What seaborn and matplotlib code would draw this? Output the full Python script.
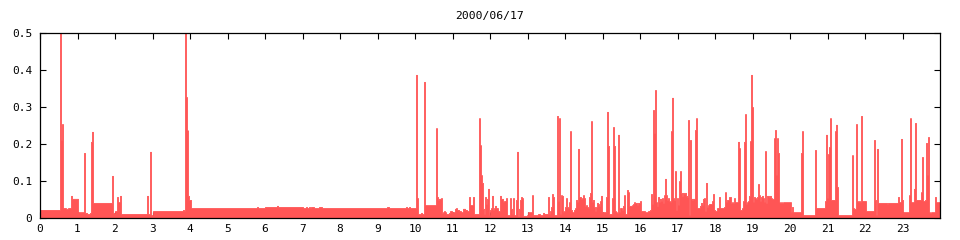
import numpy as np
import pandas as pd
import matplotlib
matplotlib.use("Agg")
import matplotlib.pyplot as plt
import seaborn as sns
from matplotlib.ticker import FuncFormatter

title = "2000/06/17"

# step start times (minutes after midnight) and the load value held from that time on
t_min = [
    0, 32, 33.6, 35.2, 36.8, 41.6, 44.8, 49.6, 51.2, 60.8, 70.4, 72, 75.2, 80, 81.6, 83.2, 84.8,
    115.2, 116.8, 120, 123.2, 124.8, 128, 129.6, 171.2, 172.8, 176, 177.6, 180.8, 228.8, 230.4,
    232, 233.6, 235.2, 236.8, 238.4, 241.6, 347.2, 348.8, 360, 379.2, 380.8, 420.8, 425.6, 427.2,
    430.4, 432, 433.6, 438.4, 446.4, 451.2, 555.2, 558.4, 585.6, 587.2, 590.4, 592,
    601.6, 603.2, 604.8, 609.6, 611.2, 614.4, 616, 633.6, 635.2, 636.8, 638.4, 641.6, 643.2,
    644.8, 646.4, 648, 649.6, 654.4, 656, 659.2, 664, 665.6, 667.2, 670.4, 673.6, 676.8, 680,
    683.2, 686.4, 688, 692.8, 694.4, 702.4, 704, 705.6, 707.2, 708.8, 710.4, 712, 713.6, 715.2,
    716.8, 718.4, 720, 721.6, 723.2, 724.8, 726.4, 728, 729.6, 732.8, 736, 737.6, 740.8, 742.4,
    745.6, 747.2, 752, 753.6, 755.2, 756.8, 758.4, 761.6, 763.2, 764.8, 766.4, 768, 769.6, 771.2,
    772.8, 779.2, 780.8, 787.2, 788.8, 796.8, 800, 804.8, 806.4, 812.8, 814.4, 816, 817.6, 819.2,
    820.8, 822.4, 827.2, 828.8, 830.4, 832, 833.6, 835.2, 836.8, 838.4, 840, 841.6, 843.2, 844.8,
    846.4, 848, 849.6, 851.2, 854.4, 856, 857.6, 859.2, 860.8, 862.4, 865.6, 867.2, 868.8, 870.4,
    872, 873.6, 875.2, 876.8, 878.4, 880, 881.6, 883.2, 884.8, 886.4, 888, 889.6, 891.2, 892.8,
    894.4, 896, 897.6, 899.2, 905.6, 907.2, 908.8, 910.4, 915.2, 916.8, 918.4, 920, 921.6, 923.2,
    924.8, 926.4, 928, 931.2, 932.8, 934.4, 936, 939.2, 940.8, 942.4, 947.2, 948.8, 950.4, 952,
    955.2, 956.8, 958.4, 960, 961.6, 968, 972.8, 976, 977.6, 979.2, 980.8, 982.4, 984, 985.6,
    987.2, 988.8, 990.4, 992, 993.6, 995.2, 996.8, 998.4, 1000, 1001.6, 1003.2, 1004.8, 1006.4,
    1008, 1009.6, 1011.2, 1012.8, 1014.4, 1016, 1017.6, 1019.2, 1020.8, 1022.4, 1024, 1025.6,
    1027.2, 1028.8, 1030.4, 1032, 1033.6, 1035.2, 1036.8, 1038.4, 1040, 1041.6, 1043.2, 1044.8,
    1048, 1049.6, 1051.2, 1056, 1057.6, 1059.2, 1060.8, 1062.4, 1064, 1065.6, 1067.2, 1068.8,
    1070.4, 1075.2, 1076.8, 1078.4, 1080, 1083.2, 1086.4, 1088, 1094.4, 1096, 1097.6, 1099.2,
    1102.4, 1105.6, 1107.2, 1108.8, 1110.4, 1112, 1116.8, 1118.4, 1120, 1123.2, 1124.8, 1126.4,
    1128, 1129.6, 1131.2, 1132.8, 1134.4, 1136, 1137.6, 1139.2, 1140.8, 1142.4, 1144, 1145.6,
    1147.2, 1148.8, 1150.4, 1152, 1153.6, 1155.2, 1156.8, 1158.4, 1160, 1161.6, 1163.2, 1166.4,
    1168, 1169.6, 1171.2, 1174.4, 1176, 1177.6, 1179.2, 1180.8, 1182.4, 1184, 1185.6, 1187.2,
    1188.8, 1201.6, 1203.2, 1204.8, 1217.6, 1219.2, 1220.8, 1240, 1241.6, 1256, 1257.6, 1259.2,
    1260.8, 1262.4, 1264, 1265.6, 1272, 1273.6, 1275.2, 1276.8, 1299.2, 1300.8, 1302.4, 1305.6,
    1307.2, 1308.8, 1310.4, 1312, 1313.6, 1315.2, 1321.6, 1334.4, 1336, 1337.6, 1339.2, 1340.8,
    1355.2, 1356.8, 1372.8, 1374.4, 1377.6, 1379.2, 1380.8, 1390.4, 1392, 1393.6, 1398.4, 1400,
    1401.6, 1409.6, 1411.2, 1412.8, 1416, 1417.6, 1419.2, 1420.8, 1422.4, 1424, 1425.6, 1432,
    1433.6,
]
load = [
    0.021, 0.55, 0.210, 0.253, 0.026, 0.024, 0.026, 0.059, 0.051, 0.015, 0.175, 0.013, 0.010, 0.013, 0.205, 0.232, 0.040,
    0.113, 0.013, 0.018, 0.056, 0.042, 0.059, 0.010, 0.059, 0.010, 0.178, 0.007, 0.018, 0.021, 0.018,
    0.55, 0.326, 0.236, 0.059, 0.048, 0.026, 0.029, 0.026, 0.029, 0.032, 0.029, 0.026, 0.029, 0.026,
    0.029, 0.026, 0.029, 0.026, 0.029, 0.026, 0.029, 0.026, 0.029, 0.026, 0.029, 0.026,
    0.386, 0.053, 0.010, 0.013, 0.010, 0.367, 0.034, 0.242, 0.056, 0.048, 0.051, 0.053, 0.013,
    0.015, 0.018, 0.015, 0.010, 0.013, 0.018, 0.015, 0.024, 0.026, 0.021, 0.018, 0.015, 0.024, 0.021,
    0.018, 0.056, 0.034, 0.056, 0.010, 0.269, 0.196, 0.115, 0.094, 0.024, 0.010, 0.056, 0.037, 0.051,
    0.078, 0.007, 0.021, 0.026, 0.059, 0.021, 0.026, 0.032, 0.026, 0.018, 0.059, 0.051, 0.042, 0.045,
    0.053, 0.007, 0.053, 0.024, 0.010, 0.053, 0.007, 0.048, 0.178, 0.005, 0.024, 0.048, 0.056, 0.053,
    0.005, 0.007, 0.015, 0.061, 0.007, 0.010, 0.007, 0.013, 0.010, 0.056, 0.010, 0.018, 0.029, 0.064,
    0.056, 0.007, 0.275, 0.045, 0.269, 0.010, 0.061, 0.059, 0.015, 0.018, 0.029, 0.053, 0.029, 0.026,
    0.042, 0.234, 0.021, 0.015, 0.021, 0.026, 0.048, 0.042, 0.186, 0.056, 0.051, 0.053, 0.061, 0.053,
    0.032, 0.034, 0.029, 0.026, 0.056, 0.067, 0.261, 0.042, 0.048, 0.029, 0.018, 0.029, 0.040, 0.037,
    0.032, 0.045, 0.059, 0.015, 0.056, 0.286, 0.194, 0.010, 0.053, 0.245, 0.194, 0.018, 0.015, 0.013,
    0.224, 0.015, 0.026, 0.021, 0.032, 0.061, 0.010, 0.075, 0.069, 0.032, 0.034, 0.037, 0.042, 0.040,
    0.034, 0.040, 0.040, 0.045, 0.018, 0.015, 0.018, 0.021, 0.064, 0.037, 0.291, 0.229, 0.345, 0.042,
    0.032, 0.056, 0.042, 0.051, 0.045, 0.053, 0.040, 0.061, 0.105, 0.061, 0.048, 0.053, 0.045,
    0.042, 0.234, 0.324, 0.053, 0.048, 0.126, 0.021, 0.053, 0.034, 0.099, 0.126, 0.067,
    0.059, 0.067, 0.064, 0.067, 0.059, 0.056, 0.264, 0.007, 0.210, 0.051, 0.048, 0.051,
    0.237, 0.269, 0.026, 0.032, 0.040, 0.034, 0.051, 0.053, 0.018, 0.094, 0.029, 0.034,
    0.037, 0.045, 0.064, 0.021, 0.018, 0.026, 0.056, 0.026, 0.029, 0.069, 0.042, 0.048,
    0.056, 0.040, 0.042, 0.040, 0.053, 0.042, 0.205, 0.188, 0.021, 0.026, 0.045, 0.205,
    0.280, 0.037, 0.042, 0.045, 0.059, 0.207, 0.386, 0.299, 0.042, 0.056, 0.053, 0.051,
    0.056, 0.091, 0.061, 0.045, 0.056, 0.059, 0.053, 0.042, 0.180, 0.040, 0.059, 0.056,
    0.059, 0.053, 0.051, 0.215, 0.237, 0.115, 0.215, 0.175, 0.042, 0.040, 0.042, 0.040,
    0.042, 0.015, 0.029, 0.015, 0.175, 0.234, 0.007, 0.183, 0.026, 0.045, 0.224, 0.053,
    0.172, 0.191, 0.269, 0.048, 0.234, 0.251, 0.083, 0.007, 0.169, 0.026, 0.024, 0.253,
    0.045, 0.042, 0.045, 0.042, 0.275, 0.045, 0.018, 0.210, 0.048, 0.007, 0.186, 0.040,
    0.037, 0.040, 0.056, 0.042, 0.213, 0.048, 0.015, 0.061, 0.269, 0.042, 0.078, 0.256,
    0.048, 0.069, 0.164, 0.045, 0.048, 0.202, 0.115, 0.218, 0.015, 0.013, 0.015, 0.056,
    0.042,
]
x_ticks = list(range(24))
y_ticks = [0, 0.1, 0.2, 0.3, 0.4, 0.5]

edges_h = [t / 60.0 for t in t_min] + [24.0]
mid_h = [(a + b) / 2.0 for a, b in zip(edges_h[:-1], edges_h[1:])]
df = pd.DataFrame({"hour": mid_h, "load": load})

sns.set_theme(style="ticks")
plt.rcParams["font.family"] = ["DejaVu Sans Mono", "DejaVu Sans"]

fig = plt.figure(figsize=(9.6, 2.4), dpi=100)
ax = fig.add_axes([40 / 960, 1 - 217.7 / 240, 900 / 960, 185 / 240])

sns.histplot(data=df, x="hour", weights="load", bins=edges_h, element="step",
             fill=True, facecolor="#ff5555", edgecolor="#ff5555", alpha=1.0,
             linewidth=0.6, ax=ax, stat="count")

ax.set_xlim(0, 24)
ax.set_ylim(0, 0.5)
ax.set_xticks(x_ticks)
ax.set_yticks(y_ticks)
ax.yaxis.set_major_formatter(FuncFormatter(lambda v, _: f"{v:g}"))
ax.set_xlabel("")
ax.set_ylabel("")
ax.set_title(title, fontsize=8.2, pad=10, color="black")
ax.tick_params(axis="both", direction="in", length=4.5, width=0.8, color="black",
               labelsize=8, labelcolor="black", top=True, right=True)
ax.tick_params(axis="x", pad=4.5)
ax.tick_params(axis="y", pad=5.5)
for s in ax.spines.values():
    s.set_visible(True)
    s.set_linewidth(0.9)
    s.set_color("black")
    s.set_zorder(5)
ax.set_facecolor("white")
fig.patch.set_facecolor("white")

fig.savefig("out.png", dpi=100, facecolor="white")
